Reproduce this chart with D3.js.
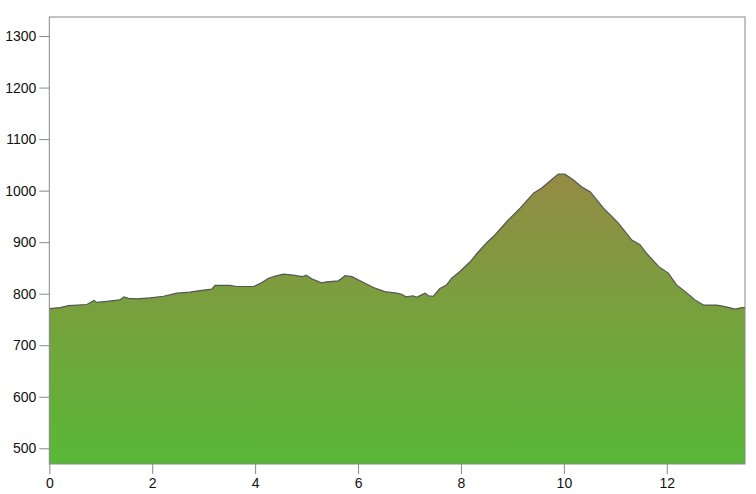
<!DOCTYPE html>
<html>
<head>
<meta charset="utf-8">
<script src="https://cdn.jsdelivr.net/npm/d3@7"></script>
<style>
  body { margin: 0; background: #fff; }
  svg { display: block; font-family: "Liberation Sans", Arial, sans-serif; }
</style>
</head>
<body>
<svg id="chart" width="756" height="494"></svg>
<script>
const distance = [0.00,0.21,0.37,0.73,0.87,0.92,1.12,1.37,1.45,1.54,1.70,1.96,2.22,2.48,2.73,2.93,3.16,3.22,3.51,3.64,3.97,4.10,4.26,4.39,4.55,4.74,4.91,4.99,5.10,5.29,5.39,5.62,5.75,5.88,6.04,6.30,6.52,6.75,6.85,6.93,7.07,7.14,7.30,7.37,7.46,7.59,7.72,7.82,7.98,8.18,8.31,8.50,8.66,8.92,9.15,9.41,9.57,9.76,9.89,10.02,10.18,10.35,10.51,10.77,11.06,11.32,11.48,11.61,11.84,12.03,12.19,12.36,12.55,12.71,12.97,13.13,13.33,13.46,13.52];
const elevation = [771,773,777,779,787,783,785,788,794,791,790,792,795,801,803,806,809,816,816,814,814,820,830,834,838,836,833,836,829,821,823,825,835,833,825,812,804,801,799,794,796,793,801,796,795,810,817,830,843,862,878,899,914,943,966,995,1005,1021,1032,1032,1021,1007,998,966,937,904,895,878,853,840,817,804,788,778,778,775,770,773,773];
const xTicks = [0,2,4,6,8,10,12];
const yTicks = [500,600,700,800,900,1000,1100,1200,1300];

(function () {
const svg = d3.select("#chart");
const mLeft = 49.3, mRight = 745, mTop = 17, mBottom = 464;

const x = d3.scaleLinear().domain([0, 13.52]).range([mLeft, mRight]);
const y = d3.scaleLinear().domain([469.5, 1337]).range([mBottom, mTop]);

const data = distance.map((d, i) => ({d, e: elevation[i]}));

const defs = svg.append("defs");
const grad = defs.append("linearGradient")
  .attr("id", "g").attr("x1", 0).attr("y1", 0).attr("x2", 0).attr("y2", 1);
grad.append("stop").attr("offset", "0%").attr("stop-color", "#948b44");
grad.append("stop").attr("offset", "100%").attr("stop-color", "#58b836");

const area = d3.area().x(p => x(p.d)).y0(mBottom).y1(p => y(p.e));
const line = d3.line().x(p => x(p.d)).y(p => y(p.e));

svg.append("path").datum(data).attr("d", area).attr("fill", "url(#g)");
svg.append("path").datum(data).attr("d", line)
  .attr("fill", "none").attr("stroke", "#555").attr("stroke-width", 1.2);

svg.append("rect")
  .attr("x", mLeft).attr("y", mTop).attr("width", mRight - mLeft).attr("height", mBottom - mTop)
  .attr("fill", "none").attr("stroke", "#888").attr("stroke-width", 1);

const yAxis = svg.append("g").attr("transform", `translate(${mLeft},0)`)
  .call(d3.axisLeft(y).tickValues(yTicks).tickSize(10).tickPadding(3).tickFormat(d3.format("d")));
const xAxis = svg.append("g").attr("transform", `translate(0,${mBottom})`)
  .call(d3.axisBottom(x).tickValues(xTicks).tickSize(10).tickPadding(4).tickFormat(d3.format("d")));

[yAxis, xAxis].forEach(g => {
  g.select(".domain").remove();
  g.selectAll(".tick line").attr("stroke", "#888");
  g.selectAll(".tick text").attr("fill", "#111").style("font-size", "14px")
    .style("font-family", "'Liberation Sans', Arial, sans-serif");
});
})();
</script>
</body>
</html>
